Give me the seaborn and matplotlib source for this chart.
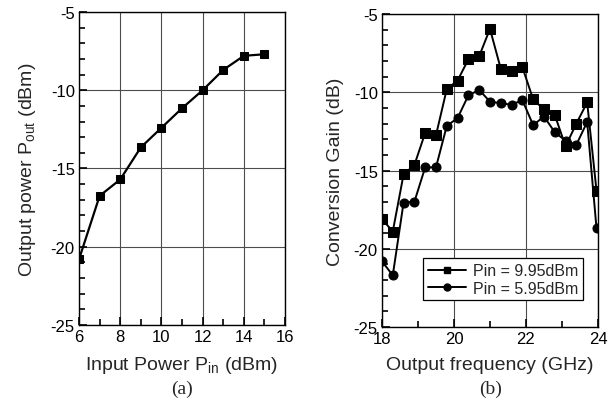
import numpy as np
import pandas as pd
import matplotlib
matplotlib.use("Agg")
import matplotlib.pyplot as plt
from matplotlib.ticker import MultipleLocator
from matplotlib.lines import Line2D
import seaborn as sns

# ---- data ----
pin_dbm = [6, 7, 8, 9, 10, 11, 12, 13, 14, 15]
pout_dbm = [-20.8, -16.75, -15.7, -13.65, -12.4, -11.15, -10.0, -8.7, -7.8, -7.7]

freq_ghz = [18.0, 18.3, 18.6, 18.9, 19.2, 19.5, 19.8, 20.1, 20.4, 20.7, 21.0,
            21.3, 21.6, 21.9, 22.2, 22.5, 22.8, 23.1, 23.4, 23.7, 23.96]
gain_995 = [-18.1, -18.9, -15.25, -14.65, -12.6, -12.75, -9.8, -9.25, -7.9, -7.7, -5.95,
            -8.5, -8.65, -8.4, -10.45, -11.1, -11.45, -13.45, -12.0, -10.65, -16.3]
gain_595 = [-20.8, -21.7, -17.05, -17.0, -14.8, -14.8, -12.15, -11.65, -10.2, -9.85, -10.6,
            -10.7, -10.8, -10.5, -12.1, -11.55, -12.55, -13.1, -13.35, -11.9, -18.7]
legend_labels = ["Pin = 9.95dBm", "Pin = 5.95dBm"]

sns.set_style("ticks")
plt.rcParams["font.family"] = ["Liberation Sans", "DejaVu Sans"]
plt.rcParams["axes.unicode_minus"] = False
plt.rcParams["mathtext.default"] = "regular"

fig = plt.figure(figsize=(6.15, 4.10), dpi=100)
ax1 = fig.add_axes([0.1285, 0.2049, 0.335, 0.7634])
ax2 = fig.add_axes([0.6211, 0.2000, 0.3512, 0.7634])

grid_kw = dict(color="0.3", linewidth=0.8)

# (a)
sns.lineplot(x=pin_dbm, y=pout_dbm, ax=ax1, color="black", marker="s",
             markersize=6, linewidth=1.6, markeredgecolor="black")
ax1.set_xlim(6, 16)
ax1.set_ylim(-25, -5)
ax1.set_xlabel("Input Power P$_{in}$ (dBm)", fontsize=14, labelpad=7)
ax1.set_ylabel("Output power P$_{out}$ (dBm)", fontsize=14, labelpad=9)

# (b)
df = pd.DataFrame({
    "freq": freq_ghz * 2,
    "gain": gain_995 + gain_595,
    "series": [legend_labels[0]] * len(freq_ghz) + [legend_labels[1]] * len(freq_ghz),
})
sns.lineplot(data=df, x="freq", y="gain", hue="series", style="series",
             markers={legend_labels[0]: "s", legend_labels[1]: "o"}, dashes=False,
             palette={legend_labels[0]: "black", legend_labels[1]: "black"},
             markersize=6.5, linewidth=1.4, markeredgecolor="black", ax=ax2,
             legend=False)
ax2.set_xlim(18, 24)
ax2.set_ylim(-25, -5)
ax2.set_xlabel("Output frequency (GHz)", fontsize=14, labelpad=7)
ax2.set_ylabel("Conversion Gain (dB)", fontsize=14, labelpad=7)

handles = [Line2D([], [], color="black", marker="s", markersize=5, linewidth=1.4),
           Line2D([], [], color="black", marker="o", markersize=5, linewidth=1.4)]
leg = ax2.legend(handles, legend_labels, loc="lower left", bbox_to_anchor=(0.19, 0.085),
                 fontsize=11.5, frameon=True, fancybox=False, edgecolor="black",
                 framealpha=1, handlelength=2.4, borderpad=0.3, labelspacing=0.15,
                 handletextpad=0.4, borderaxespad=0)
leg.get_frame().set_linewidth(0.9)

for ax in (ax1, ax2):
    ax.xaxis.set_major_locator(MultipleLocator(2))
    ax.xaxis.set_minor_locator(MultipleLocator(1))
    ax.yaxis.set_major_locator(MultipleLocator(5))
    ax.yaxis.set_minor_locator(MultipleLocator(1))
    ax.grid(True, which="major", **grid_kw)
    for s in ax.spines.values():
        s.set_visible(True)
        s.set_color("black")
        s.set_linewidth(1.0)
    ax.tick_params(axis="both", which="both", direction="in",
                   labelcolor="black", labelsize=12, top=False, right=False,
                   bottom=True, left=True)
    ax.tick_params(axis="both", which="major", length=6, width=1.2, pad=3, color="black")
    ax.tick_params(axis="both", which="minor", length=4.5, width=1.2, color="black")

fig.text(0.296, 0.05, "(a)", ha="center", va="center", fontsize=14,
         family=["Liberation Serif", "DejaVu Serif"])
fig.text(0.797, 0.05, "(b)", ha="center", va="center", fontsize=14,
         family=["Liberation Serif", "DejaVu Serif"])

fig.savefig("out.png", dpi=100, facecolor="white")
